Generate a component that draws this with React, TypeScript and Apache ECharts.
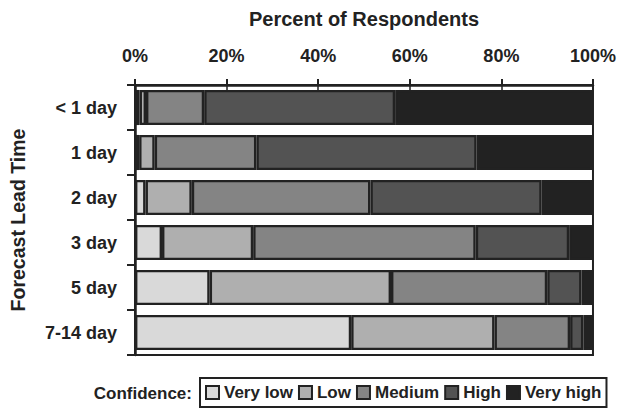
import React, { useEffect, useRef } from "react";
import * as echarts from "echarts";

const categories = ["< 1 day", "1 day", "2 day", "3 day", "5 day", "7-14 day"];
const levels = ["Very low", "Low", "Medium", "High", "Very high"];
const veryLow = [1.0, 0.9, 2.3, 5.9, 16.3, 47.2];
const low = [1.4, 3.4, 10.1, 19.9, 39.6, 31.3];
const medium = [12.7, 22.2, 39.0, 48.6, 34.1, 16.5];
const high = [41.7, 48.1, 37.4, 20.4, 7.5, 2.9];
const veryHigh = [43.2, 25.4, 11.2, 5.2, 2.5, 2.1];
const seriesValues = [veryLow, low, medium, high, veryHigh];
const colors = ["#d9d9d9", "#afafaf", "#848484", "#535353", "#222222"];
const xTitle = "Percent of Respondents";
const yTitle = "Forecast Lead Time";
const legendTitle = "Confidence:";

const FONT = "'Liberation Sans', Arial, Helvetica, sans-serif";
const INK = "#222222";

export default function App() {
  const ref = useRef<HTMLDivElement>(null);
  useEffect(() => {
    if (!ref.current) return;
    const chart = echarts.init(ref.current, null, { renderer: "svg" });
    chart.setOption({
      animation: false,
      backgroundColor: "#ffffff",
      textStyle: { fontFamily: FONT, color: INK },
      grid: {
        left: 135,
        right: 26,
        top: 85,
        bottom: 54,
        show: true,
        borderColor: INK,
        borderWidth: 2,
        backgroundColor: "#ffffff",
      },
      xAxis: [
        {
          type: "value",
          position: "top",
          min: 0,
          max: 100,
          interval: 20,
          name: xTitle,
          nameLocation: "middle",
          nameGap: 56,
          nameTextStyle: { fontSize: 20, fontWeight: "bold", color: INK, fontFamily: FONT },
          axisLine: { show: true, lineStyle: { color: INK, width: 2.5 } },
          axisTick: { show: true, inside: false, length: 6, lineStyle: { color: INK, width: 2 } },
          axisLabel: {
            formatter: "{value}%",
            fontSize: 18,
            fontWeight: "bold",
            color: INK,
            margin: 20,
            fontFamily: FONT,
          },
          splitLine: { show: false },
        },
        {
          type: "value",
          position: "top",
          min: 0,
          max: 100,
          interval: 20,
          axisLine: { show: false },
          axisTick: { show: true, inside: true, length: 5, lineStyle: { color: INK, width: 1.5 } },
          axisLabel: { show: false },
          splitLine: { show: false },
        },
      ],
      yAxis: {
        type: "category",
        data: categories,
        inverse: true,
        name: yTitle,
        nameLocation: "middle",
        nameGap: 107,
        nameTextStyle: { fontSize: 19.5, fontWeight: "bold", color: INK, fontFamily: FONT },
        axisLine: { show: true, lineStyle: { color: INK, width: 2.5 } },
        axisTick: { show: true, length: 8, lineStyle: { color: INK, width: 2 } },
        axisLabel: { fontSize: 18, fontWeight: "bold", color: INK, margin: 18, fontFamily: FONT },
      },
      legend: {
        data: levels,
        left: 200,
        top: 378,
        orient: "horizontal",
        icon: "rect",
        itemWidth: 13,
        itemHeight: 13,
        itemGap: 5,
        padding: [6, 5, 6, 5],
        borderColor: INK,
        borderWidth: 2,
        textStyle: { fontSize: 17, fontWeight: "bold", color: INK, fontFamily: FONT },
      },
      graphic: [
        {
          type: "text",
          x: 192,
          y: 393,
          style: {
            text: legendTitle,
            align: "right",
            verticalAlign: "middle",
            fontSize: 17,
            fontWeight: "bold",
            fill: INK,
            fontFamily: FONT,
          },
        },
      ],
      series: levels.map((name, i) => ({
        name,
        type: "bar",
        stack: "total",
        xAxisIndex: 0,
        data: seriesValues[i],
        barCategoryGap: "22%",
        itemStyle: { color: colors[i], borderColor: INK, borderWidth: 2.4 },
        emphasis: { disabled: true },
      })),
    });
    return () => chart.dispose();
  }, []);
  return (
    <div
      ref={ref}
      style={{ position: "fixed", left: 0, top: 0, width: 619, height: 409 }}
    />
  );
}
